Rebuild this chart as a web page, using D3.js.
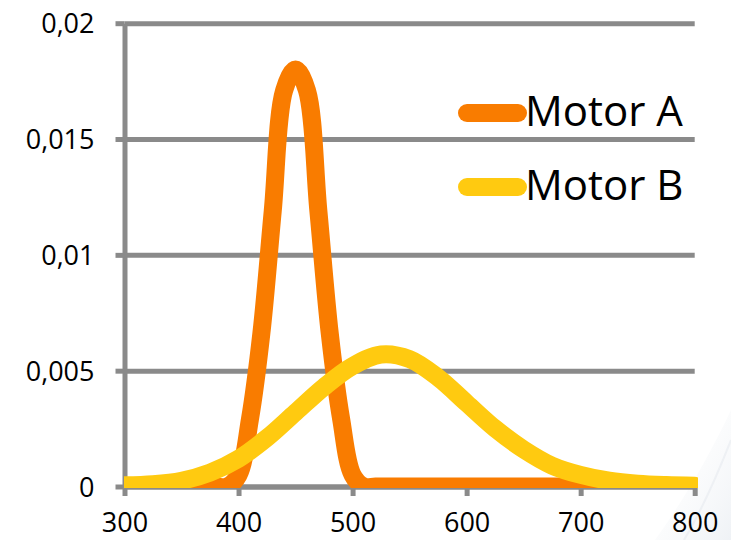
<!DOCTYPE html>
<html>
<head>
<meta charset="utf-8">
<script src="https://cdn.jsdelivr.net/npm/d3@7"></script>
<style>
  body { margin: 0; background: #fff; }
  svg { display: block; font-family: 'Open Sans', sans-serif; }
</style>
</head>
<body>
<svg id="chart" width="731" height="540"></svg>
<script>
// values
const motorAX = [300, 370, 380, 390, 400, 410, 420, 430, 440, 450, 460, 470, 480, 490, 500, 510, 520, 530, 800];
const motorAY = [0, 0, 0, 0, 0.0005, 0.0029, 0.0066, 0.0119, 0.0171, 0.018, 0.0171, 0.0119, 0.0066, 0.0029, 0.0005, 0, 0, 0, 0];
const motorBX = [300, 325, 350, 375, 400, 425, 450, 475, 500, 525, 550, 575, 600, 625, 650, 675, 700, 725, 750, 775, 800];
const motorBY = [0.00005, 0.0001, 0.00025, 0.0006, 0.0012, 0.0021, 0.0032, 0.0043, 0.0052, 0.0057, 0.0055, 0.0047, 0.0036,
  0.0025, 0.0016, 0.0009, 0.0005, 0.00025, 0.00012, 0.00006, 0.00003];
const seriesNames = ['Motor A', 'Motor B'];
const xTicks = [300, 400, 500, 600, 700, 800];
const yTicks = [0, 0.005, 0.01, 0.015, 0.02];
const yTickLabels = ['0', '0,005', '0,01', '0,015', '0,02'];

const colors = ['#F97C00', '#FFCA10'];
const gridColor = '#8A8A8A';

const svg = d3.select('#chart');

const x = d3.scaleLinear().domain([300, 800]).range([124.5, 694.7]);
const y = d3.scaleLinear().domain([0, 0.02]).range([486.5, 23.2]);

// faint swoosh in the lower right corner
const defs = svg.append('defs');
const grad = defs.append('linearGradient')
  .attr('id', 'swoosh')
  .attr('x1', '0').attr('y1', '0').attr('x2', '1').attr('y2', '1');
grad.append('stop').attr('offset', '0').attr('stop-color', '#ffffff').attr('stop-opacity', 0);
grad.append('stop').attr('offset', '1').attr('stop-color', '#dfe5ec').attr('stop-opacity', 0.5);
svg.append('path')
  .attr('d', 'M731,410 C705,465 680,505 655,540 L731,540 Z')
  .attr('fill', 'url(#swoosh)');
svg.append('path')
  .attr('d', 'M731,440 C716,478 702,510 684,540')
  .attr('fill', 'none')
  .attr('stroke', '#e3e8ee')
  .attr('stroke-width', 2)
  .attr('opacity', 0.5);

defs.append('clipPath').attr('id', 'plot-clip')
  .append('rect')
  .attr('x', 124)
  .attr('y', 0)
  .attr('width', 698 - 124)
  .attr('height', 488);

// horizontal gridlines
svg.append('g')
  .attr('class', 'grid')
  .attr('transform', `translate(${x(300)},0)`)
  .call(d3.axisLeft(y).tickValues(yTicks).tickSize(-(x(800) - x(300))).tickFormat(''))
  .call(g => g.select('.domain').remove())
  .call(g => g.selectAll('line').attr('stroke', gridColor).attr('stroke-width', 5));

// x axis (labels kept just inside the bottom edge)
svg.append('g')
  .attr('class', 'x-axis')
  .attr('transform', `translate(0,${y(0)})`)
  .call(d3.axisBottom(x).tickValues(xTicks).tickSizeInner(9.5).tickSizeOuter(0).tickPadding(17))
  .call(g => g.select('.domain').attr('stroke', gridColor).attr('stroke-width', 5))
  .call(g => g.selectAll('.tick line').attr('stroke', gridColor).attr('stroke-width', 5))
  .call(g => g.selectAll('text')
    .attr('fill', '#000')
    .attr('font-size', 27)
    .attr('font-family', "'Open Sans', sans-serif"));

// y axis
svg.append('g')
  .attr('class', 'y-axis')
  .attr('transform', `translate(${x(300)},0)`)
  .call(d3.axisLeft(y).tickValues(yTicks).tickSizeInner(9).tickSizeOuter(0).tickPadding(21)
    .tickFormat((d, i) => yTickLabels[i]))
  .call(g => g.select('.domain').attr('stroke', gridColor).attr('stroke-width', 5))
  .call(g => g.selectAll('.tick line').attr('stroke', gridColor).attr('stroke-width', 5))
  .call(g => g.selectAll('text')
    .attr('fill', '#000')
    .attr('dy', '0.36em')
    .attr('font-size', 27)
    .attr('font-family', "'Open Sans', sans-serif"));

const line = d3.line()
  .curve(d3.curveCatmullRom)
  .x(d => x(d[0]))
  .y(d => y(d[1]));

const series = [
  motorAX.map((v, i) => [v, motorAY[i]]),
  motorBX.map((v, i) => [v, motorBY[i]]),
];

svg.append('g')
  .attr('clip-path', 'url(#plot-clip)')
  .selectAll('path')
  .data(series)
  .join('path')
  .attr('d', line)
  .attr('fill', 'none')
  .attr('stroke', (d, i) => colors[i])
  .attr('stroke-width', 18)
  .attr('stroke-linecap', 'round')
  .attr('stroke-linejoin', 'round');

// legend
const legend = svg.append('g').attr('class', 'legend');
const legendY = [113, 187];
seriesNames.forEach((name, i) => {
  legend.append('line')
    .attr('x1', 467)
    .attr('x2', 518)
    .attr('y1', legendY[i])
    .attr('y2', legendY[i])
    .attr('stroke', colors[i])
    .attr('stroke-width', 18)
    .attr('stroke-linecap', 'round');
  legend.append('text')
    .attr('x', 525)
    .attr('y', legendY[i] + 13)
    .attr('font-size', 42)
    .attr('fill', '#000')
    .text(name);
});
</script>
</body>
</html>
